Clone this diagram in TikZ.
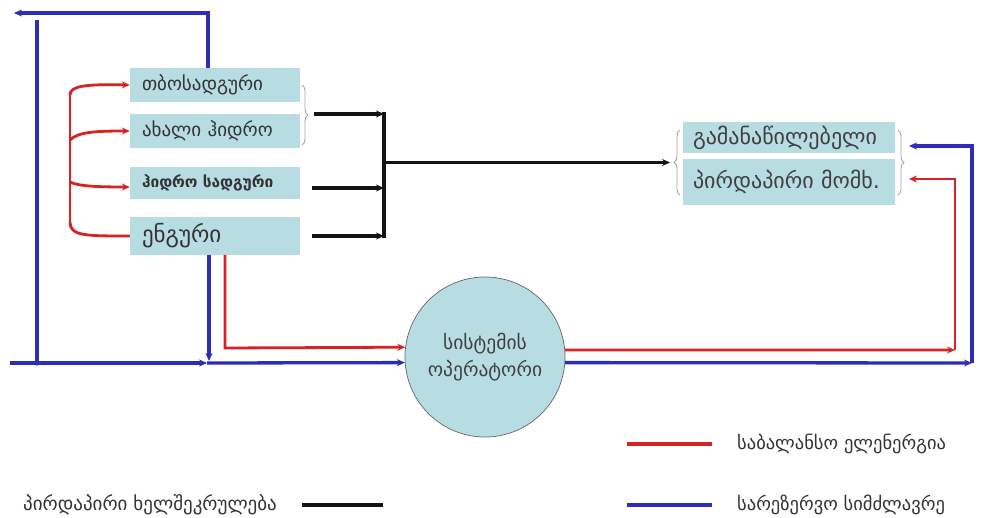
\documentclass[tikz,border=0pt]{standalone}
\usepackage{fontspec}
\newfontfamily\geo{DejaVu Sans}
\usetikzlibrary{arrows.meta,decorations.pathreplacing,calc}
\definecolor{boxfill}{RGB}{183,220,225}
\definecolor{rline}{RGB}{215,35,35}
\definecolor{bline}{RGB}{45,45,185}
\definecolor{kline}{RGB}{20,20,20}
\begin{document}
\begin{tikzpicture}[x=1pt,y=-1pt,
  box/.style={draw=none,fill=boxfill,minimum width=170pt,inner xsep=12pt,text width=146pt,align=left,font=\geo\fontsize{19}{22}\selectfont,text=black!80},
  rbox/.style={draw=none,fill=boxfill,minimum width=212pt,inner xsep=10pt,text width=192pt,align=left,font=\geo\fontsize{22}{26}\selectfont,text=black!75},
  red/.style={draw=rline,line width=2.8pt},
  blue/.style={draw=bline,line width=3.3pt},
  blk/.style={draw=kline,line width=3.2pt},
  tip/.style={-{Stealth[length=8pt,width=7pt]}},
  brc/.style={draw=gray!70,line width=0.9pt,decorate,decoration={brace,amplitude=6pt}},
  lgd/.style={font=\geo\fontsize{19}{22}\selectfont,text=black!80,anchor=west,inner sep=0pt}
]
\useasboundingbox (0,0) rectangle (981,518);
\fill[white] (0,0) rectangle (981,518);

% left boxes
\node[box,minimum height=34pt] (b1) at (215,85) {თბოსადგური};
\node[box,minimum height=34pt] (b2) at (215,131) {ახალი ჰიდრო};
\node[box,minimum height=32pt,font=\geo\bfseries\fontsize{15.5}{18}\selectfont] (b3) at (215,183) {ჰიდრო სადგური};
\node[box,minimum height=38pt,font=\geo\fontsize{23}{26}\selectfont] (b4) at (215,236) {ენგური};

% right boxes
\node[rbox,minimum height=29pt] (r1) at (789,137.5) {გამანაწილებელი};
\node[rbox,minimum height=46pt] (r2) at (789,182) {პირდაპირი მომხ.};

% circle
\node[circle,draw=gray!80!black,line width=0.7pt,fill=boxfill,minimum size=160pt,align=center,
      font=\geo\fontsize{19.5}{27}\selectfont,text=black!75] (op) at (485,357) {სისტემის\\ოპერატორი};

% braces
\draw[brc] (302,85) -- (302,145);
\coordinate (bt) at (314,114);
\draw[brc] (680,195) -- (680,130);
\coordinate (rt) at (670,162.5);
\draw[brc] (898,130) -- (898,195);

% black connectors
\coordinate (j1) at (384,114);
\coordinate (j2) at (384,188);
\coordinate (j3) at (384,236);
\coordinate (jm) at (384,162.5);
\coordinate (s3) at (312,188);
\coordinate (s4) at (312,236);
\draw[blk,tip] (bt) -- (j1);
\draw[blk,tip] (s3) -- (j2);
\draw[blk,tip] (s4) -- (j3);
\draw[blk] ($(j1)+(0,-1.6)$) -- ($(j3)+(0,1.6)$);
\draw[blk,tip] (jm) -- (rt);

% red left curves
\coordinate (rv1) at (70,95);
\coordinate (rv2) at (70,140);
\coordinate (rv3) at (70,182);
\coordinate (rv4) at (70,222);
\draw[red] (rv1) -- (rv4);
\draw[red,tip] (rv1) .. controls (70,86) and (85,84) .. (b1.west);
\draw[red,tip] (rv2) .. controls (78,132) and (95,131) .. (b2.west);
\draw[red,tip] (rv3) .. controls (78,186) and (95,187) .. (b3.west |- 0,187);
\draw[red] (rv4) .. controls (70,236) and (85,236) .. (b4.west);

% red from Enguri to operator
\coordinate (ea) at (225,255);
\coordinate (eb) at (225,348);
\draw[red,tip] (ea) -- (eb) -- (op.173.5);
% red from operator to direct consumer
\coordinate (rc) at (955,350);
\coordinate (rd) at (955,179);
\coordinate (re) at (909,179);
\draw[red,tip] (op.5) -- (rc);
\draw[red,tip] (rc) -- (rd) -- (re);

% blue lines
\coordinate (ua) at (208,68);
\coordinate (ub) at (208,13);
\coordinate (uc) at (14,13);
\draw[blue,tip] (ua) -- (ub) -- (uc);
\coordinate (la) at (37,20);
\coordinate (lb) at (37,363);
\draw[blue] (la) -- (lb);
\fill[bline] (lb) circle (2.6pt);
\coordinate (ha) at (10,363);
\coordinate (hb) at (207,363);
\draw[blue,tip] (ha) -- (hb);
\coordinate (va) at (209,255);
\coordinate (vb) at (209,361);
\draw[blue,tip] (va) -- (vb);
\draw[blue,tip] (hb) -- (op.184.3);
\coordinate (bc) at (972,363);
\coordinate (bd) at (972,146);
\coordinate (be) at (909,146);
\draw[blue,tip] (op.-4.3) -- (bc);
\draw[blue,tip] (bc) -- (bd) -- (be);

% legend
\node[lgd] (l1) at (23,505) {პირდაპირი ხელშეკრულება};
\coordinate (l1a) at (302,505);
\coordinate (l1b) at (383,505);
\draw[blk] (l1a) -- (l1b);
\coordinate (l2a) at (627,444);
\coordinate (l2b) at (712,444);
\draw[red,line width=3.2pt] (l2a) -- (l2b);
\node[lgd,font=\geo\fontsize{18.5}{22}\selectfont] (l2) at (737,444) {საბალანსო ელენერგია};
\coordinate (l3a) at (627,505);
\coordinate (l3b) at (712,505);
\draw[blue] (l3a) -- (l3b);
\node[lgd,font=\geo\fontsize{18.5}{22}\selectfont] (l3) at (737,505) {სარეზერვო სიმძლავრე};
\end{tikzpicture}
\end{document}
